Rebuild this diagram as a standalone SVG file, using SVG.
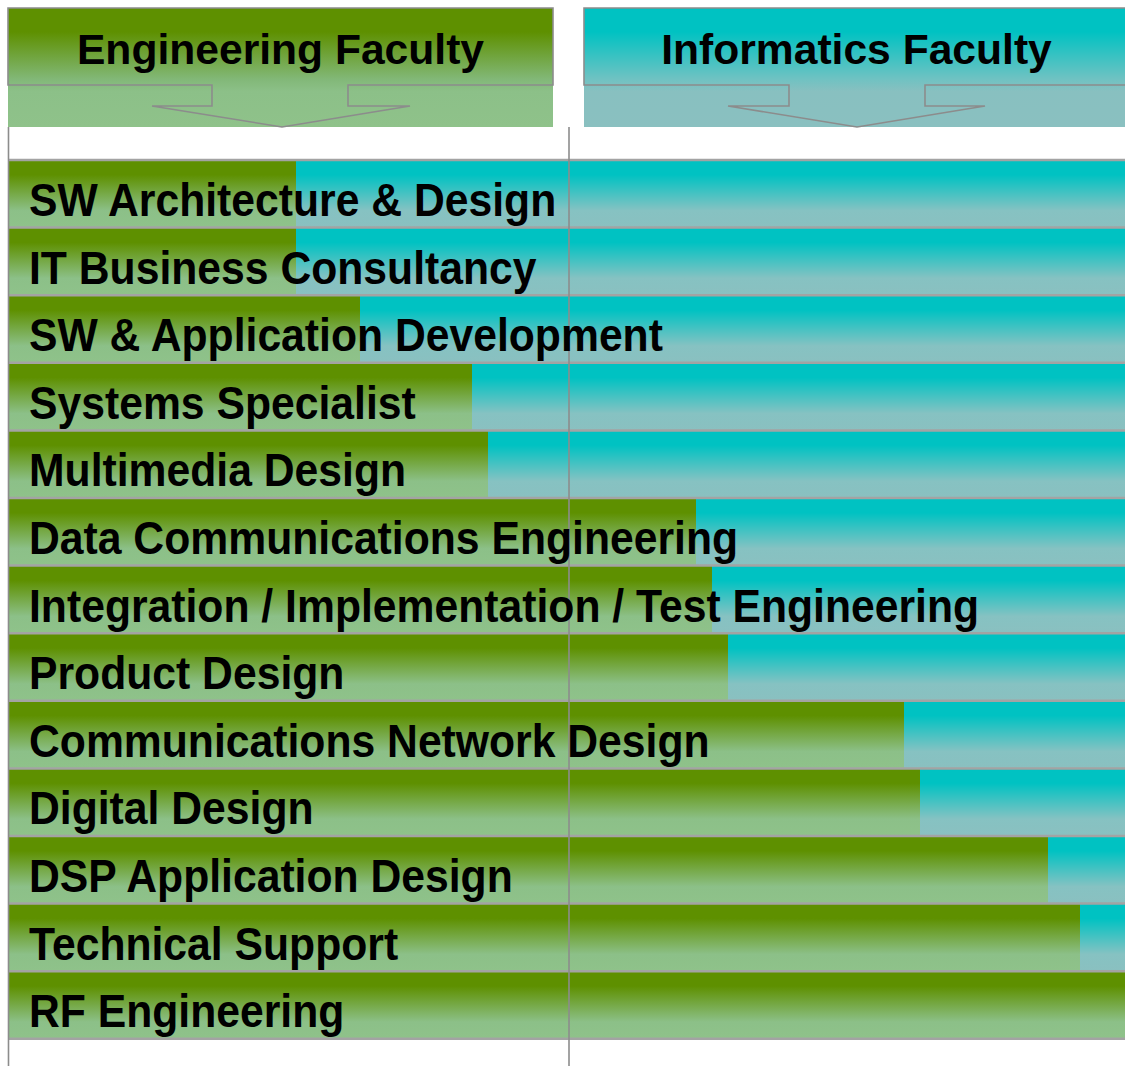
<svg xmlns="http://www.w3.org/2000/svg" width="1125" height="1066" viewBox="0 0 1125 1066">
<defs>
<linearGradient id="gG" x1="0" y1="0" x2="0" y2="1">
<stop offset="0" stop-color="#5e9000"/>
<stop offset="0.22" stop-color="#5e9000"/>
<stop offset="0.75" stop-color="#8cc088"/>
<stop offset="1" stop-color="#8fc28a"/>
</linearGradient>
<linearGradient id="gT" x1="0" y1="0" x2="0" y2="1">
<stop offset="0" stop-color="#00c2c2"/>
<stop offset="0.22" stop-color="#00c2c2"/>
<stop offset="0.75" stop-color="#86c2c2"/>
<stop offset="1" stop-color="#8ac0c0"/>
</linearGradient>
<linearGradient id="hG" x1="0" y1="0" x2="0" y2="1">
<stop offset="0" stop-color="#5e9000"/>
<stop offset="0.2" stop-color="#5e9000"/>
<stop offset="0.6" stop-color="#82b878"/>
<stop offset="0.7" stop-color="#8cc088"/>
<stop offset="1" stop-color="#8fc28a"/>
</linearGradient>
<linearGradient id="hT" x1="0" y1="0" x2="0" y2="1">
<stop offset="0" stop-color="#00c2c2"/>
<stop offset="0.2" stop-color="#00c2c2"/>
<stop offset="0.6" stop-color="#70c2c2"/>
<stop offset="0.7" stop-color="#88c0c0"/>
<stop offset="1" stop-color="#8ac0c0"/>
</linearGradient>
</defs>
<style>
.lbl{font-family:"Liberation Sans",Arial,sans-serif;font-weight:bold;font-size:46.5px;fill:#000}
.hdr{font-family:"Liberation Sans",Arial,sans-serif;font-weight:bold;font-size:42.6px;fill:#000;text-anchor:middle}
.g{fill:url(#gG)}
.t{fill:url(#gT)}
.ln{stroke:#8c8c8c;stroke-width:1.6;fill:none}
.sep{stroke:#a3a3a3;stroke-width:2.5}
</style>
<rect width="1125" height="1066" fill="#fff"/>

<g id="header-engineering">
<rect x="8" y="8" width="545" height="119" fill="url(#hG)"/>
<path class="ln" d="M8,85 V8 H553 V85 H348 V106 H410 L282,127 L152,106 H212 V85 Z"/>
<text class="hdr" x="280.5" y="63.5">Engineering Faculty</text>
</g>
<g id="header-informatics">
<rect x="584" y="8" width="545" height="119" fill="url(#hT)"/>
<path class="ln" d="M584,85 V8 H1130 V85 H925 V106 H985 L857,127 L728,106 H789 V85 Z"/>
<text class="hdr" x="856.5" y="63.5">Informatics Faculty</text>
</g>

<g id="rows">
<g id="row1"><rect class="g" x="8" y="160" width="288" height="67.6"/><rect class="t" x="296" y="160" width="829" height="67.6"/></g>
<g id="row2"><rect class="g" x="8" y="227.6" width="288" height="67.6"/><rect class="t" x="296" y="227.6" width="829" height="67.6"/></g>
<g id="row3"><rect class="g" x="8" y="295.2" width="352" height="67.6"/><rect class="t" x="360" y="295.2" width="765" height="67.6"/></g>
<g id="row4"><rect class="g" x="8" y="362.8" width="464" height="67.6"/><rect class="t" x="472" y="362.8" width="653" height="67.6"/></g>
<g id="row5"><rect class="g" x="8" y="430.4" width="480" height="67.6"/><rect class="t" x="488" y="430.4" width="637" height="67.6"/></g>
<g id="row6"><rect class="g" x="8" y="498" width="688" height="67.6"/><rect class="t" x="696" y="498" width="429" height="67.6"/></g>
<g id="row7"><rect class="g" x="8" y="565.6" width="704" height="67.6"/><rect class="t" x="712" y="565.6" width="413" height="67.6"/></g>
<g id="row8"><rect class="g" x="8" y="633.2" width="720" height="67.6"/><rect class="t" x="728" y="633.2" width="397" height="67.6"/></g>
<g id="row9"><rect class="g" x="8" y="700.8" width="896" height="67.6"/><rect class="t" x="904" y="700.8" width="221" height="67.6"/></g>
<g id="row10"><rect class="g" x="8" y="768.4" width="912" height="67.6"/><rect class="t" x="920" y="768.4" width="205" height="67.6"/></g>
<g id="row11"><rect class="g" x="8" y="836" width="1040" height="67.6"/><rect class="t" x="1048" y="836" width="77" height="67.6"/></g>
<g id="row12"><rect class="g" x="8" y="903.6" width="1072" height="67.6"/><rect class="t" x="1080" y="903.6" width="45" height="67.6"/></g>
<g id="row13"><rect class="g" x="8" y="971.2" width="1117" height="67.6"/></g>
</g>

<g id="connectors">
<line class="sep" x1="8" y1="160" x2="1125" y2="160"/>
<line class="sep" x1="8" y1="227.6" x2="1125" y2="227.6"/>
<line class="sep" x1="8" y1="295.2" x2="1125" y2="295.2"/>
<line class="sep" x1="8" y1="362.8" x2="1125" y2="362.8"/>
<line class="sep" x1="8" y1="430.4" x2="1125" y2="430.4"/>
<line class="sep" x1="8" y1="498" x2="1125" y2="498"/>
<line class="sep" x1="8" y1="565.6" x2="1125" y2="565.6"/>
<line class="sep" x1="8" y1="633.2" x2="1125" y2="633.2"/>
<line class="sep" x1="8" y1="700.8" x2="1125" y2="700.8"/>
<line class="sep" x1="8" y1="768.4" x2="1125" y2="768.4"/>
<line class="sep" x1="8" y1="836" x2="1125" y2="836"/>
<line class="sep" x1="8" y1="903.6" x2="1125" y2="903.6"/>
<line class="sep" x1="8" y1="971.2" x2="1125" y2="971.2"/>
<line class="sep" x1="8" y1="1038.8" x2="1125" y2="1038.8"/>
<line class="ln" x1="8.5" y1="127" x2="8.5" y2="1066"/>
<line class="ln" x1="569" y1="127" x2="569" y2="1066"/>
</g>

<g id="labels" transform="scale(0.918 1)">
<text class="lbl" x="31.6" y="216">SW Architecture &amp; Design</text>
<text class="lbl" x="31.6" y="283.6">IT Business Consultancy</text>
<text class="lbl" x="31.6" y="351.2">SW &amp; Application Development</text>
<text class="lbl" x="31.6" y="418.8">Systems Specialist</text>
<text class="lbl" x="31.6" y="486.4">Multimedia Design</text>
<text class="lbl" x="31.6" y="554">Data Communications Engineering</text>
<text class="lbl" x="31.6" y="621.6">Integration / Implementation / Test Engineering</text>
<text class="lbl" x="31.6" y="689.2">Product Design</text>
<text class="lbl" x="31.6" y="756.8">Communications Network Design</text>
<text class="lbl" x="31.6" y="824.4">Digital Design</text>
<text class="lbl" x="31.6" y="892">DSP Application Design</text>
<text class="lbl" x="31.6" y="959.6">Technical Support</text>
<text class="lbl" x="31.6" y="1027.2">RF Engineering</text>
</g>
</svg>
